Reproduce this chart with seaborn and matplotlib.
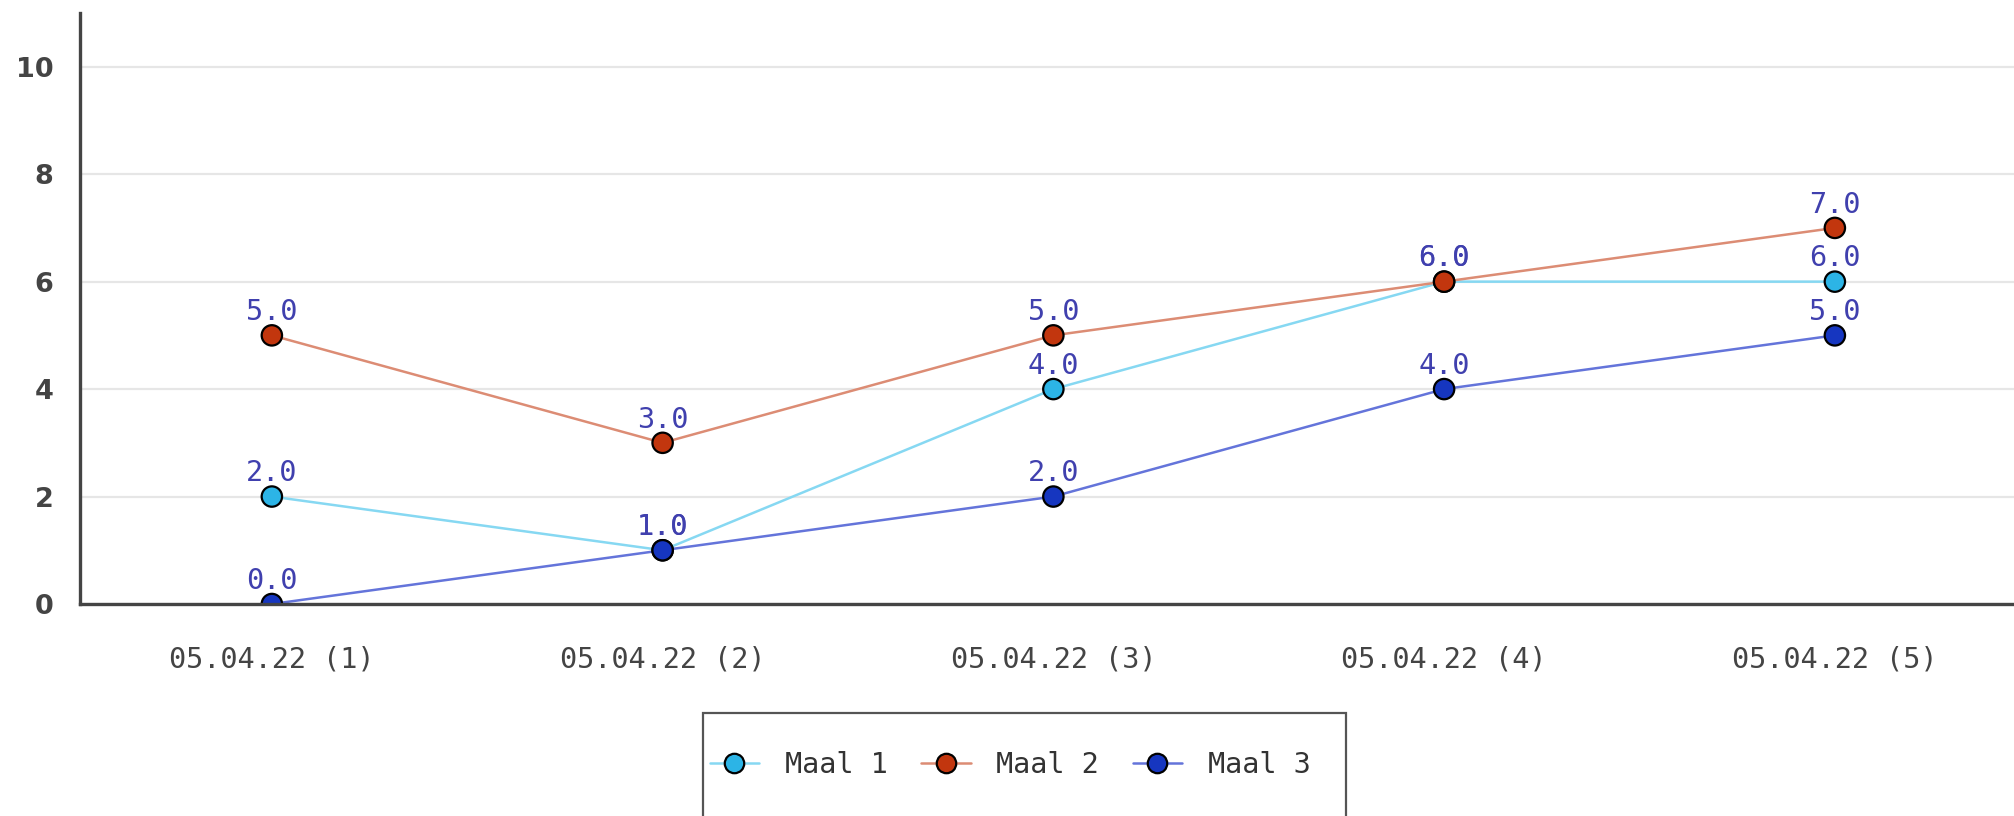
import numpy as np
import pandas as pd
import seaborn as sns
import matplotlib
matplotlib.use("Agg")
import matplotlib.pyplot as plt
from matplotlib.lines import Line2D
from matplotlib.patches import Rectangle
from matplotlib.ticker import MultipleLocator

# ---- data ----
categories = ["05.04.22 (1)", "05.04.22 (2)", "05.04.22 (3)", "05.04.22 (4)", "05.04.22 (5)"]
series_names = ["Maal 1", "Maal 2", "Maal 3"]
maal1 = [2, 1, 4, 6, 6]
maal2 = [5, 3, 5, 6, 7]
maal3 = [0, 1, 2, 4, 5]
series_values = [maal1, maal2, maal3]
y_ticks = [0, 2, 4, 6, 8, 10]

line_colors = ["#86d8f2", "#dc8c74", "#6474da"]
marker_colors = ["#2cb4e6", "#c2360e", "#1636c0"]
label_color = "#4040ae"

rows = []
for name, vals in zip(series_names, series_values):
    for i, v in enumerate(vals):
        rows.append({"pos": i, "value": v, "series": name})
df = pd.DataFrame(rows)

sns.set_style("white")
plt.rcParams["font.family"] = ["DejaVu Sans Mono", "DejaVu Sans"]

W, H = 2015, 816
fig = plt.figure(figsize=(W / 100, H / 100), dpi=100)
ax = fig.add_axes([80 / W, 1 - 604 / H, 1 - 80 / W, (604 - 13) / H])

sns.lineplot(data=df, x="pos", y="value", hue="series", hue_order=series_names,
             palette=line_colors, linewidth=1.8, legend=False, sort=False,
             estimator=None, ax=ax, zorder=2)
sns.scatterplot(data=df, x="pos", y="value", hue="series", hue_order=series_names,
                palette=marker_colors, s=215, edgecolor="black", linewidth=1.6,
                legend=False, ax=ax, zorder=3)
for coll in ax.collections:
    coll.set_clip_on(True)
    coll.set_clip_path(ax.patch)

for name, vals in zip(series_names, series_values):
    for i, v in enumerate(vals):
        ax.annotate(f"{v:.1f}", (i, v), xytext=(0, 11), textcoords="offset points",
                    ha="center", va="baseline", fontsize=20.5, color=label_color,
                    family="DejaVu Sans Mono", zorder=4)

ax.set_xlim(-0.491, 4.461)
ax.set_ylim(0, 11)
ax.set_xticks(range(len(categories)))
ax.set_xticklabels(categories, fontsize=20.5, color="#444444", family="DejaVu Sans Mono")
ax.set_yticks(y_ticks)
ax.set_yticklabels([str(t) for t in y_ticks], fontsize=19.5, color="#444444",
                   family="DejaVu Sans", fontweight="bold")
ax.yaxis.set_minor_locator(MultipleLocator(1))
ax.set_xlabel("")
ax.set_ylabel("")

ax.tick_params(axis="x", direction="in", length=12, width=1.6, color="#444444", pad=30)
ax.tick_params(axis="y", which="major", direction="in", length=10, width=1.8,
               color="#444444", pad=19)
ax.tick_params(axis="y", which="minor", direction="in", length=7, width=1.8, color="#444444")

ax.yaxis.grid(True, which="major", color="#e6e6e6", linewidth=1.6)
ax.xaxis.grid(False)
ax.set_axisbelow(True)

for s in ["top", "right"]:
    ax.spines[s].set_visible(False)
for s in ["left", "bottom"]:
    ax.spines[s].set_color("#444444")
    ax.spines[s].set_linewidth(2.4)
    ax.spines[s].set_zorder(5)

# legend
handles = [Line2D([0], [0], color=lc, lw=1.8, marker="o", markersize=14,
                  markerfacecolor=mc, markeredgecolor="black", markeredgewidth=1.6)
           for lc, mc in zip(line_colors, marker_colors)]
leg = fig.legend(handles, series_names, loc="center",
                 bbox_to_anchor=(1010 / W, 1 - 765 / H), bbox_transform=fig.transFigure,
                 ncol=3, frameon=False, handlelength=1.74, handletextpad=0.9,
                 columnspacing=1.18, borderpad=0,
                 prop={"family": "DejaVu Sans Mono", "size": 20.5})
for t in leg.get_texts():
    t.set_color("#333333")

fig.patches.append(Rectangle((703 / W, 1 - 822 / H), (1346 - 703) / W, (822 - 713) / H,
                             transform=fig.transFigure, fill=False,
                             edgecolor="#555555", linewidth=1.6, clip_on=False))

fig.savefig("out.png", dpi=100)
